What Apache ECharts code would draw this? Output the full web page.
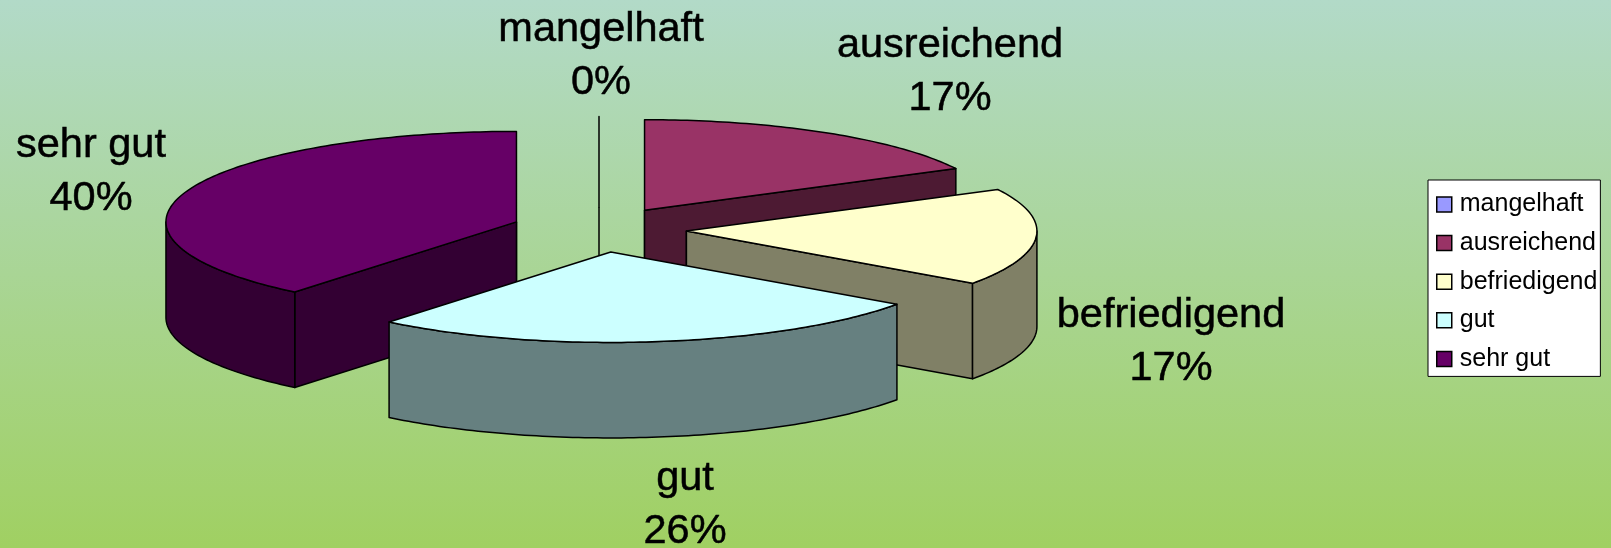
<!DOCTYPE html>
<html>
<head>
<meta charset="utf-8">
<style>html,body{margin:0;padding:0;background:#fff}#c{width:1611px;height:548px}</style>
<script src="https://cdn.jsdelivr.net/npm/echarts@6/dist/echarts.min.js"></script>
</head>
<body>
<div id="c"></div>
<script>
const categories = ['mangelhaft', 'ausreichend', 'befriedigend', 'gut', 'sehr gut'];
const printedPercent = [0, 17, 17, 26, 40];
const shares = [0, 17.4, 17.4, 26.1, 39.1];
const topColors = ['#9999FF', '#993366', '#FFFFCC', '#CCFFFF', '#660066'];
const sideColors = ['#4D4D80', '#4D1A33', '#808066', '#668080', '#330033'];
const paintOrder = [0, 1, 2, 4, 3];
const labelAnchors = [[601, 56], [950, 72], [1171, 342], [685, 505], [91, 172]];

const pie = { cx: 599, cy: 229.5, rx: 350.5, ry: 90.5, depth: 95.5, explode: 0.25, line: 1.5 };
const total = shares.reduce((a, b) => a + b, 0);
const startShare = shares.map((_, i) => shares.slice(0, i).reduce((a, b) => a + b, 0));
const rad = d => d * Math.PI / 180;

function renderSlice(i) {
  return function (params, api) {
    const value = api.value(0);
    const a0 = startShare[i] / total * 360;
    const a1 = a0 + value / total * 360;
    const mid = rad((a0 + a1) / 2);
    const ax = pie.cx + pie.explode * pie.rx * Math.sin(mid);
    const ay = pie.cy - pie.explode * pie.ry * Math.cos(mid);
    const pt = d => [ax + pie.rx * Math.sin(rad(d)), ay - pie.ry * Math.cos(rad(d))];
    const down = p => [p[0], p[1] + pie.depth];
    const arc = (from, to) => {
      const out = [];
      const n = Math.max(1, Math.ceil(Math.abs(to - from)));
      for (let k = 0; k <= n; k++) out.push(pt(from + (to - from) * k / n));
      return out;
    };
    const style = fill => ({ fill, stroke: '#000', lineWidth: pie.line, lineJoin: 'round' });
    const poly = (points, fill) => ({ type: 'polygon', shape: { points }, style: style(fill) });
    const wall = (p) => poly([[ax, ay], p, down(p), down([ax, ay])], sideColors[i]);
    const children = [];
    const apex = [ax, ay];
    children.push({ type: 'line', shape: { x1: ax, y1: ay, x2: ax, y2: ay + pie.depth }, style: { stroke: '#000', lineWidth: pie.line } });
    if (Math.sin(rad(a0)) < -1e-6) children.push(wall(pt(a0)));
    if (Math.sin(rad(a1)) > 1e-6) children.push(wall(pt(a1)));
    const f0 = Math.max(a0, 90), f1 = Math.min(a1, 270);
    if (f1 > f0) {
      const rim = arc(f0, f1);
      children.push(poly(rim.concat(rim.map(down).reverse()), sideColors[i]));
    }
    children.push(poly([apex].concat(arc(a0, a1)), topColors[i]));
    children.push({
      type: 'text',
      style: {
        x: labelAnchors[i][0], y: labelAnchors[i][1],
        text: categories[i] + '\n' + printedPercent[i] + '%',
        fill: '#000', stroke: '#000', lineWidth: 0.5, align: 'center', verticalAlign: 'middle',
        font: '41.5px "Liberation Sans", Arial, sans-serif', lineHeight: 53
      }
    });
    return { type: 'group', children };
  };
}

const chart = echarts.init(document.getElementById('c'), null, { renderer: 'canvas' });
chart.setOption({
  animation: false,
  backgroundColor: {
    type: 'linear', x: 0, y: 0, x2: 0, y2: 1,
    colorStops: [{ offset: 0, color: '#B2DAC8' }, { offset: 1, color: '#A0D062' }]
  },
  legend: {
    left: 1428, top: 180, orient: 'vertical', icon: 'rect',
    backgroundColor: '#fff', borderColor: '#000', borderWidth: 1,
    padding: [12, 3, 5, 8], itemWidth: 15, itemHeight: 15, itemGap: 13.6,
    itemStyle: { borderColor: '#000', borderWidth: 1.5 },
    textStyle: { color: '#000', fontFamily: '"Liberation Sans", Arial, sans-serif', fontSize: 25, lineHeight: 15, padding: [0, 0, 0, 3] },
    data: categories
  },
  series: categories.map((name, i) => ({
    type: 'custom', name, coordinateSystem: 'none',
    z: 2 + paintOrder.indexOf(i),
    itemStyle: { color: topColors[i] },
    renderItem: renderSlice(i),
    data: [[shares[i]]]
  }))
});
</script>
</body>
</html>
